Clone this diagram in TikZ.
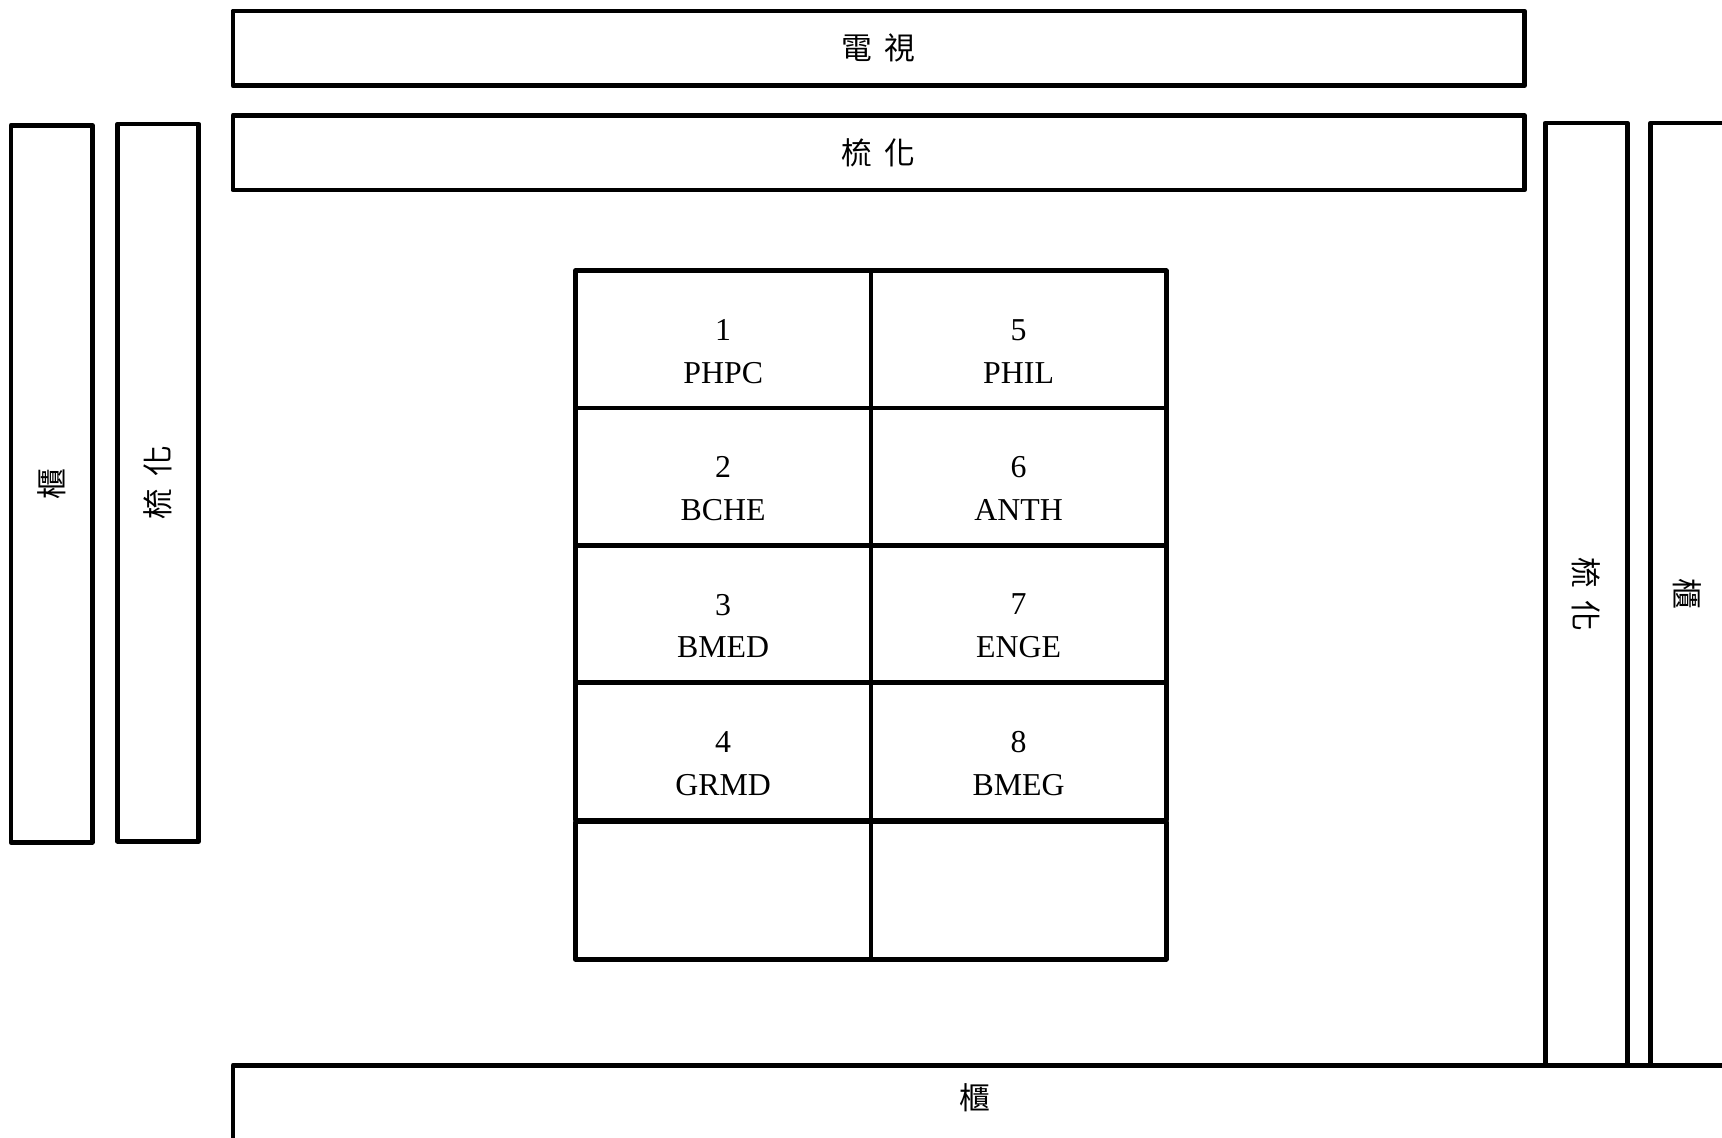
\documentclass[tikz,border=0pt]{standalone}
\usepackage{fontspec}
\setmainfont{Liberation Serif}
\newfontfamily\cjk{Noto Sans CJK TC}
\begin{document}
\begin{tikzpicture}[x=1pt,y=-1pt,
  box/.style={draw,line width=4.2pt,line join=round,inner sep=0pt,font=\cjk\fontsize{28}{30}\selectfont},
  cell/.style={draw,line width=4.2pt,line join=round,inner sep=0pt,minimum width=269pt,minimum height=125pt},
  txt/.style={inner sep=0pt,align=center,font=\fontsize{29}{39}\selectfont},
  lbl/.style={inner sep=0pt,font=\cjk\fontsize{28}{30}\selectfont}]
\useasboundingbox (0,0) rectangle (1568,1036);
% top boxes
\node[box,minimum width=1176pt,minimum height=68pt] (tv) at (800,44) {電\hspace{11pt}視\hspace{-10pt}};
\node[box,minimum width=1176pt,minimum height=68pt] (sofatop) at (800,139) {梳\hspace{11pt}化\hspace{-10pt}};
% left boxes
\node[box,minimum width=74pt,minimum height=653pt] (cabL) at (47,440.5) {\rotatebox{90}{櫃}};
\node[box,minimum width=74pt,minimum height=653pt] (sofaL) at (144,439.5) {\rotatebox{90}{梳\hspace{11pt}化}};
% right boxes
\node[box,minimum width=75pt,minimum height=858pt] (sofaR) at (1444.5,541) {\rotatebox{-90}{梳\hspace{11pt}化}};
\node[box,minimum width=67pt,minimum height=858pt] (cabR) at (1536.5,541) {\rotatebox{-90}{櫃}};
% bottom cabinet
\node[box,minimum width=1400pt,minimum height=80pt] (cabB) at (912,1010) {};
\node[lbl] (cabBl) at (888,1000) {櫃};
% grid
\foreach \r/\a/\b/\c/\d in {0/1/PHPC/5/PHIL,1/2/BCHE/6/ANTH,2/3/BMED/7/ENGE,3/4/GRMD/8/BMEG}{
  \node[cell] (L\a) at (658.5,{309+125*\r}) {};
  \node[cell] (R\c) at (927.5,{309+125*\r}) {};
  \node[txt] (tL\a) at ([yshift=-11pt]L\a.center) {\a\\\b};
  \node[txt] (tR\c) at ([yshift=-11pt]R\c.center) {\c\\\d};
}
\node[cell] (L9) at (658.5,811) {};
\node[cell] (R9) at (927.5,811) {};
\end{tikzpicture}
\end{document}
